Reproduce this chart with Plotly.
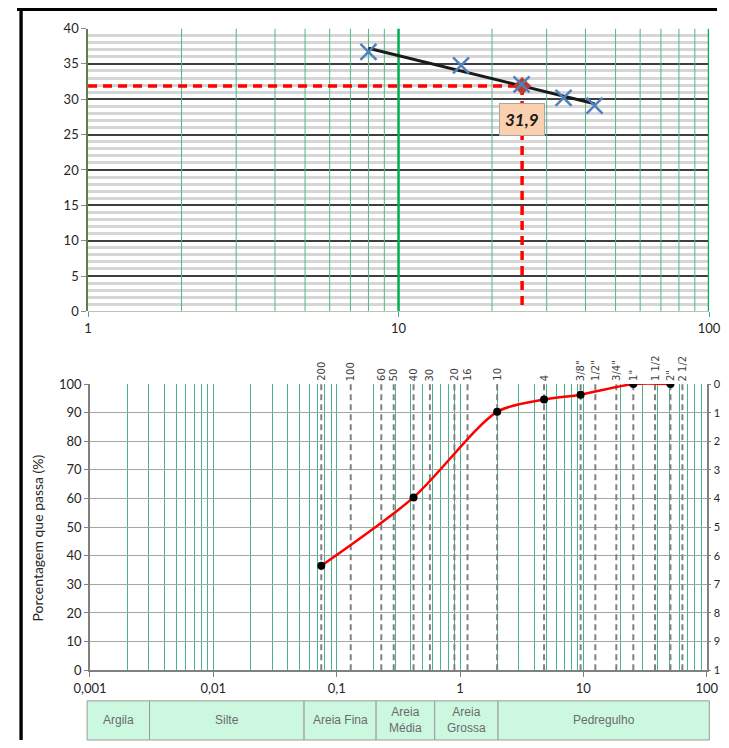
import numpy as np
import plotly.graph_objects as go

W, H = 729, 748

# ---------------- data: liquid limit chart (top) ----------------
blows = [8.0, 15.9, 24.9, 34.0, 42.8]          # number of blows
moisture = [36.7, 34.8, 32.1, 30.2, 29.1]      # moisture content (%)
ll_blows = 25
top_x_ticks = [1, 10, 100]
top_x_ticktext = ["1", "10", "100"]
top_y_ticks = [0, 5, 10, 15, 20, 25, 30, 35, 40]

# ---------------- data: grain size chart (bottom) ----------------
sizes_mm = [0.075, 0.42, 2.0, 4.8, 9.5, 25.4, 50.8]
passing = [36.5, 60.4, 90.3, 94.6, 96.3, 100, 100]
sieve_labels = ["200", "100", "60", "50", "40", "30", "20", "16", "10", "4",
                '3/8"', '1/2"', '3/4"', '1"', "1 1/2", '2"', "2 1/2"]
sieve_mm = [0.075, 0.13, 0.23, 0.29, 0.42, 0.57, 0.9, 1.15, 2.0, 4.8,
            9.5, 12.5, 18.5, 25.4, 38.1, 50.8, 63.5]
bot_x_ticks = [0.001, 0.01, 0.1, 1, 10, 100]
bot_x_ticktext = ["0,001", "0,01", "0,1", "1", "10", "100"]
bot_y_ticks = [0, 10, 20, 30, 40, 50, 60, 70, 80, 90, 100]
retained_ticks = [0, 10, 20, 30, 40, 50, 60, 70, 80, 90, 100]
soil_classes = ["Argila", "Silte", "Areia Fina", "Areia<br>Média", "Areia<br>Grossa", "Pedregulho"]

# ---------------- derived ----------------
coef = np.polyfit(np.log10(blows), moisture, 1)
ll_value = float(np.polyval(coef, np.log10(ll_blows)))
trend_x = [min(blows), max(blows)]
trend_y = [float(np.polyval(coef, np.log10(v))) for v in trend_x]

top_minor_x = [m * d for d in (1, 10) for m in range(2, 10)]
top_minor_y = [v for v in range(1, 40) if v % 5]
bot_minor_x = [m * d for d in (0.001, 0.01, 0.1, 1, 10) for m in range(2, 10)]
# right-hand labels are cut by the page edge: only the first character shows
retained_text = [str(v)[0] for v in retained_ticks]

FONT = "Lato"


def px(xp):
    return xp / W


def py(yp):
    return 1 - yp / H


def vlines(xs, y0, y1):
    gx, gy = [], []
    for v in xs:
        gx += [v, v, None]
        gy += [y0, y1, None]
    return gx, gy


fig = go.Figure()

# ---- top chart: vertical green grid (drawn as lines above the horizontal grid) ----
gx, gy = vlines(top_minor_x, 0, 40)
fig.add_trace(go.Scatter(x=gx, y=gy, mode="lines", line=dict(color="#4cbb80", width=1),
                         xaxis="x", yaxis="y", hoverinfo="skip"))
gx, gy = vlines(top_x_ticks[1:], 0, 40)
fig.add_trace(go.Scatter(x=gx, y=gy, mode="lines", line=dict(color="#00b050", width=2.5),
                         xaxis="x", yaxis="y", hoverinfo="skip"))

# ---- top chart traces ----
fig.add_trace(go.Scatter(x=[1, ll_blows], y=[ll_value, ll_value], mode="lines",
                         line=dict(color="#ff0000", width=3.5, dash="9px,6px"),
                         xaxis="x", yaxis="y", hoverinfo="skip"))
fig.add_trace(go.Scatter(x=[ll_blows, ll_blows], y=[ll_value, 0.6], mode="lines",
                         line=dict(color="#ff0000", width=3.5, dash="9px,6px"),
                         xaxis="x", yaxis="y", hoverinfo="skip"))
fig.add_trace(go.Scatter(x=trend_x, y=trend_y, mode="lines",
                         line=dict(color="#1a1a1a", width=3),
                         xaxis="x", yaxis="y"))
fig.add_trace(go.Scatter(x=[ll_blows], y=[ll_value], mode="markers",
                         marker=dict(symbol="diamond", size=14, color="#c0392b"),
                         xaxis="x", yaxis="y"))
fig.add_trace(go.Scatter(x=blows, y=moisture, mode="markers",
                         marker=dict(symbol="x-thin", size=16,
                                     line=dict(color="#4f81bd", width=2.5)),
                         xaxis="x", yaxis="y"))

# ---- bottom chart traces ----
sx, sy = vlines(sieve_mm, 0, 100)
fig.add_trace(go.Scatter(x=sx, y=sy, mode="lines",
                         line=dict(color="#808080", width=2, dash="6px,4px"),
                         xaxis="x2", yaxis="y2", hoverinfo="skip"))
fig.add_trace(go.Scatter(x=sizes_mm, y=passing, mode="lines",
                         line=dict(color="#ff0000", width=2.5, shape="spline", smoothing=0.8),
                         xaxis="x2", yaxis="y2"))
fig.add_trace(go.Scatter(x=sizes_mm, y=passing, mode="markers",
                         marker=dict(color="#000000", size=8),
                         xaxis="x2", yaxis="y2"))
fig.add_trace(go.Scatter(x=[1], y=[50], mode="markers", marker=dict(opacity=0),
                         xaxis="x2", yaxis="y3", hoverinfo="skip"))

tickfont = dict(family=FONT, size=13, color="#262626")

fig.update_layout(
    width=W, height=H, autosize=False,
    margin=dict(l=0, r=0, t=0, b=0),
    paper_bgcolor="white", plot_bgcolor="white",
    showlegend=False,
    xaxis=dict(
        type="log", range=[0, 2], domain=[px(74), px(720.7)], anchor="y",
        tickvals=top_x_ticks, ticktext=top_x_ticktext, tickfont=tickfont,
        ticks="outside", ticklen=5, tickcolor="#4a9fb5",
        showgrid=False, showline=False, zeroline=False,
    ),
    yaxis=dict(
        range=[0, 40], domain=[py(310), py(21)], anchor="x",
        tickvals=top_y_ticks, tickfont=tickfont,
        ticks="outside", ticklen=5, tickcolor="#8c8c8c",
        showgrid=True, gridcolor="#3f3f3f", gridwidth=2,
        minor=dict(tickvals=top_minor_y, showgrid=True, gridcolor="#d6d6d6",
                   gridwidth=2.5, ticks=""),
        showline=True, linecolor="#5e7d4a", linewidth=1.5,
        zeroline=True, zerolinecolor="#b5c9b0", zerolinewidth=1,
    ),
    xaxis2=dict(
        type="log", range=[-3, 2], domain=[px(76), px(718.3)], anchor="y2",
        tickvals=bot_x_ticks, ticktext=bot_x_ticktext, tickfont=tickfont,
        ticks="outside", ticklen=5, tickcolor="#808080",
        showgrid=True, gridcolor="#4db38a", gridwidth=1,
        minor=dict(tickvals=bot_minor_x, showgrid=True, gridcolor="#4db38a",
                   gridwidth=1, ticks=""),
        showline=True, linecolor="#808080", linewidth=1.5, zeroline=False,
    ),
    yaxis2=dict(
        range=[0, 100], domain=[py(676.7), py(384.3)], anchor="x2",
        tickvals=bot_y_ticks, tickfont=tickfont,
        ticks="outside", ticklen=4, tickcolor="#808080",
        showgrid=True, gridcolor="#a6a6a6", gridwidth=1,
        showline=True, linecolor="#808080", linewidth=1.5, zeroline=False,
    ),
    yaxis3=dict(
        range=[100, 0], overlaying="y2", side="right", anchor="x2",
        tickvals=retained_ticks, ticktext=retained_text,
        tickfont=dict(family=FONT, size=11, color="#262626"),
        ticks="outside", ticklen=3, tickcolor="#808080", ticklabelstandoff=0,
        showgrid=False, showline=True, linecolor="#808080", linewidth=1.5,
        zeroline=False,
    ),
)

annotations = []
# liquid limit label
annotations.append(dict(
    x=np.log10(ll_blows), y=ll_value, xref="x", yref="y",
    text="<b><i>" + f"{ll_value:.1f}".replace(".", ",") + "</i></b>",
    showarrow=False, xanchor="center", yanchor="middle", yshift=-34,
    bgcolor="#fbd0ae", bordercolor="#a6a6a6",
    borderwidth=1, borderpad=5, font=dict(family=FONT, size=17, color="#1a1a1a"),
))
# sieve labels
for lab, s in zip(sieve_labels, sieve_mm):
    annotations.append(dict(
        x=np.log10(s), y=100, xref="x2", yref="y2", text=lab, showarrow=False,
        textangle=-90, xanchor="center", yanchor="bottom", yshift=1,
        font=dict(family="DejaVu Sans", size=10, color="#404040"),
    ))
# y title
annotations.append(dict(
    x=px(21), y=py(542), xref="paper", yref="paper",
    text="Porcentagem que passa (%)", showarrow=False, textangle=-90,
    xanchor="center", yanchor="middle",
    font=dict(family=FONT, size=14, color="#262626"),
))

# soil class table (cut by the bottom edge of the page)
col_edges = [73, 138, 299, 374, 435, 501, 721]
shapes = []
for i, name in enumerate(soil_classes):
    x0, x1 = col_edges[i], col_edges[i + 1]
    shapes.append(dict(type="rect", xref="paper", yref="paper",
                       x0=px(x0), x1=px(x1), y0=0, y1=py(708),
                       fillcolor="#ccf8e0", line=dict(color="#9a9a9a", width=1)))
    annotations.append(dict(
        x=px((x0 + x1) / 2), y=py(728), xref="paper", yref="paper",
        text=name, showarrow=False, xanchor="center", yanchor="middle",
        font=dict(family="Liberation Sans", size=12, color="#6b6b6b"),
    ))

# page borders
shapes.append(dict(type="line", xref="paper", yref="paper",
                   x0=0, x1=1, y0=py(1.5), y1=py(1.5),
                   line=dict(color="#000000", width=3)))
for xm in [316, 429, 544, 669]:
    shapes.append(dict(type="line", xref="paper", yref="paper",
                       x0=px(xm), x1=px(xm), y0=py(3), y1=1,
                       line=dict(color="#000000", width=1.5)))
shapes.append(dict(type="rect", xref="paper", yref="paper",
                   x0=px(2.5), x1=px(6), y0=0, y1=1,
                   fillcolor="#000000", line=dict(width=0)))

fig.update_layout(annotations=annotations, shapes=shapes)

fig.write_html("out.html")
